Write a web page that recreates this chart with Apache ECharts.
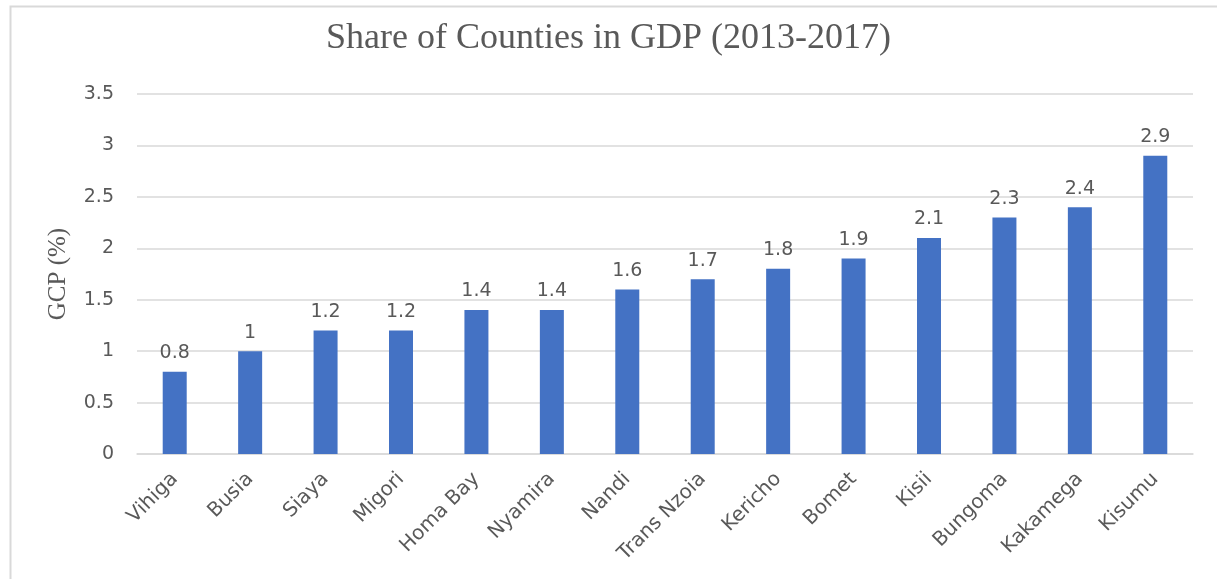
<!DOCTYPE html>
<html>
<head>
<meta charset="utf-8">
<script src="https://cdn.jsdelivr.net/npm/echarts@6/dist/echarts.min.js"></script>
<style>html,body{margin:0;padding:0;background:#fff;}#c{width:1217px;height:579px;}</style>
</head>
<body>
<div id="c"></div>
<script>
const counties = ["Vihiga","Busia","Siaya","Migori","Homa Bay","Nyamira","Nandi","Trans Nzoia","Kericho","Bomet","Kisii","Bungoma","Kakamega","Kisumu"];
const gcpShare = [0.8,1,1.2,1.2,1.4,1.4,1.6,1.7,1.8,1.9,2.1,2.3,2.4,2.9];
const yTicks = {min:0, max:3.5, interval:0.5};

const chart = echarts.init(document.getElementById('c'));
chart.setOption({
  animation:false,
  backgroundColor:'#fff',
  graphic:[{type:'rect',left:8,top:4,shape:{width:1300,height:700},style:{fill:'none',stroke:'#D9D9D9',lineWidth:2},silent:true,z:-1}],
  title:{text:'Share of Counties in GDP (2013-2017)',left:'center',top:16,
    textStyle:{fontFamily:'Liberation Serif',fontSize:36,fontWeight:'normal',color:'#595959'}},
  grid:{left:137,right:24,top:94,bottom:125},
  xAxis:{type:'category',data:counties,
    axisLine:{lineStyle:{color:'#D9D9D9',width:1.5}},axisTick:{show:false},
    axisLabel:{rotate:45,margin:22,interval:0,color:'#595959',fontFamily:'DejaVu Sans',fontSize:20}},
  yAxis:{type:'value',min:yTicks.min,max:yTicks.max,interval:yTicks.interval,
    name:'GCP (%)',nameLocation:'middle',nameGap:66,
    nameTextStyle:{fontFamily:'Liberation Serif',fontSize:25,color:'#595959'},
    axisLine:{show:false},axisTick:{show:false},
    splitLine:{lineStyle:{color:'#D9D9D9',width:1.5}},
    axisLabel:{margin:23,color:'#595959',fontFamily:'DejaVu Sans',fontSize:19}},
  series:[{type:'bar',data:gcpShare,barWidth:24,
    itemStyle:{color:'#4472C4'},
    label:{show:true,position:'top',distance:9,color:'#595959',fontFamily:'DejaVu Sans',fontSize:19}}]
});
</script>
</body>
</html>
